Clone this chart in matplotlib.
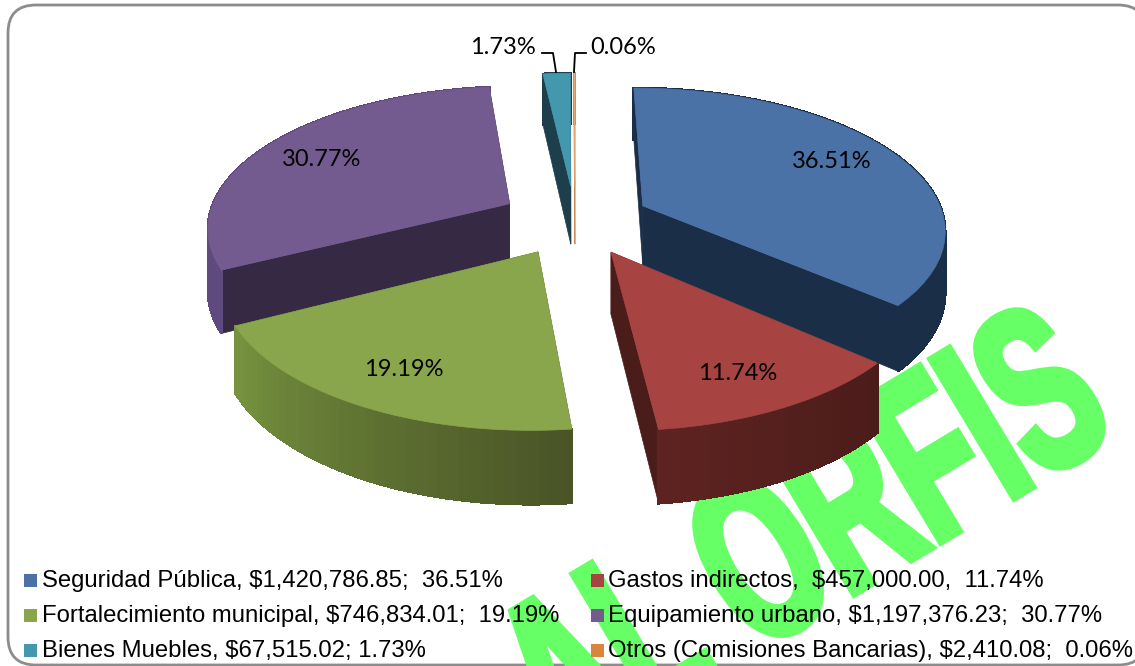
import numpy as np
import matplotlib
matplotlib.use("Agg")
import matplotlib.pyplot as plt
from matplotlib.colors import LinearSegmentedColormap
from matplotlib.patches import FancyBboxPatch, Polygon, Rectangle
from matplotlib.patheffects import AbstractPathEffect
from matplotlib.transforms import Affine2D

# values
categories = ["Seguridad Pública", "Gastos indirectos", "Fortalecimiento municipal",
              "Equipamiento urbano", "Bienes Muebles", "Otros (Comisiones Bancarias)"]
percent = [36.51, 11.74, 19.19, 30.77, 1.73, 0.06]
legend_labels = ["Seguridad Pública, $1,420,786.85;  36.51%",
                 "Gastos indirectos,  $457,000.00,  11.74%",
                 "Fortalecimiento municipal, $746,834.01;  19.19%",
                 "Equipamiento urbano, $1,197,376.23;  30.77%",
                 "Bienes Muebles, $67,515.02; 1.73%",
                 "Otros (Comisiones Bancarias), $2,410.08;  0.06%"]
legend_colors = ["#4a72a6", "#a74442", "#8aa64c", "#735a8f", "#4398ae", "#db843d"]
top_colors = ["#4a72a6", "#a74442", "#8aa64c", "#735a8f", "#4398ae", "#e8a76e"]
cut_colors = ["#1b2e47", "#4a1c1a", "#4a5526", "#352943", "#1c3f4b", "#c98a55"]
wall_colors = [("#1b2e47", "#1b2e47"), ("#4a1c1a", "#5e2320"), ("#4a5426", "#76933f"),
               ("#5f4a80", "#5f4a80"), ("#1c3f4b", "#1c3f4b"), ("#c98a55", "#c98a55")]
draw_order = [4, 5, 3, 0, 2, 1]

# pie projection, in pixels of the figure
CX, CY = 575, 220
RX, RY = 302, 140
PERSP = 0.154
DEPTH = 60
EXPLODE = 0.25


class Squeeze(AbstractPathEffect):
    # the watermark letters are condensed and heavy, no such font is installed
    def __init__(self, sx, width):
        self.sx = sx
        self.width = width

    def draw_path(self, renderer, gc, tpath, affine, rgbFace=None):
        gc0 = renderer.new_gc()
        gc0.copy_properties(gc)
        gc0.set_linewidth(self.width)
        gc0.set_foreground(rgbFace)
        gc0.set_joinstyle("miter")
        renderer.draw_path(gc0, tpath, Affine2D().scale(self.sx, 1) + affine, rgbFace)
        gc0.restore()


fig = plt.figure(figsize=(11.35, 6.66), dpi=100)
ax = fig.add_axes([0, 0, 1, 1])
ax.set_xlim(0, 1135)
ax.set_ylim(666, 0)
ax.axis("off")

# rounded chart frame
ax.add_patch(FancyBboxPatch((8, 5), 1138, 660, boxstyle="round,pad=0,rounding_size=28",
                            fc="white", ec="#8c8c8c", lw=2, zorder=1))

# watermark sits behind the pie and the legend
ax.text(562, 769, "AL ORFIS", rotation=31, rotation_mode="anchor", ha="left", va="baseline",
        fontsize=168, color="#66ff66", fontweight="bold", family="Liberation Sans",
        zorder=2, path_effects=[Squeeze(0.6, 6)])


def project(x, y, drop=0.0):
    s = 1 / (1 + PERSP * y)
    return CX + RX * x * s, CY - RY * y * s + DEPTH * s * drop


edges = np.concatenate([[0], np.cumsum(percent)]) / sum(percent) * 2 * np.pi
for i in draw_order:
    a0, a1 = edges[i], edges[i + 1]
    mid = (a0 + a1) / 2
    ox, oy = EXPLODE * np.sin(mid), EXPLODE * np.cos(mid)
    t = np.linspace(a0, a1, 40)
    rx, ry = ox + np.sin(t), oy + np.cos(t)

    # cut faces
    for a in (a0, a1):
        ex, ey = ox + np.sin(a), oy + np.cos(a)
        pts = [project(ox, oy), project(ex, ey), project(ex, ey, 1), project(ox, oy, 1)]
        ax.add_patch(Polygon(pts, fc=cut_colors[i], ec=cut_colors[i], lw=0.5, zorder=3))

    # outer wall, shaded in strips
    cmap = LinearSegmentedColormap.from_list("wall", wall_colors[i])
    for j in range(len(t) - 1):
        c = cmap(j / (len(t) - 2))
        pts = [project(rx[j], ry[j]), project(rx[j + 1], ry[j + 1]),
               project(rx[j + 1], ry[j + 1], 1), project(rx[j], ry[j], 1)]
        ax.add_patch(Polygon(pts, fc=c, ec=c, lw=1.2, antialiased=False, zorder=3))

    # top face
    px, py = project(rx, ry)
    ax.add_patch(Polygon(np.vstack([[project(ox, oy)], np.column_stack([px, py])]),
                         fc=top_colors[i], ec=top_colors[i], lw=0.5, zorder=3))

# percentage labels
label_font = ["Lato", "DejaVu Sans"]
label_pos = [(832, 162), (738, 373), (404, 370), (322, 159), (503, 48), (623, 48)]
for pos, p in zip(label_pos, percent):
    ax.text(pos[0], pos[1], f"{p:.2f}%", ha="center", va="center", fontsize=17,
            family=label_font, color="black", zorder=5)
ax.plot([542, 553, 556], [53, 53, 72], color="black", lw=1.3, zorder=5)
ax.plot([586, 575, 574], [53, 53, 72], color="black", lw=1.3, zorder=5)

# legend written by hand so each column stays where it is in the picture
leg_x = [24, 591]
leg_y = [580, 615, 650]
for k, text in enumerate(legend_labels):
    col, row = k % 2, k // 2
    ax.add_patch(Rectangle((leg_x[col], leg_y[row] - 6.5), 13, 13, fc=legend_colors[k], ec="none", zorder=5))
    ax.text(leg_x[col] + 17.5, leg_y[row] + 7, text, ha="left", va="baseline", fontsize=17.2,
            family="Liberation Sans", color="black", zorder=5)

fig.savefig("out.png", dpi=100)
